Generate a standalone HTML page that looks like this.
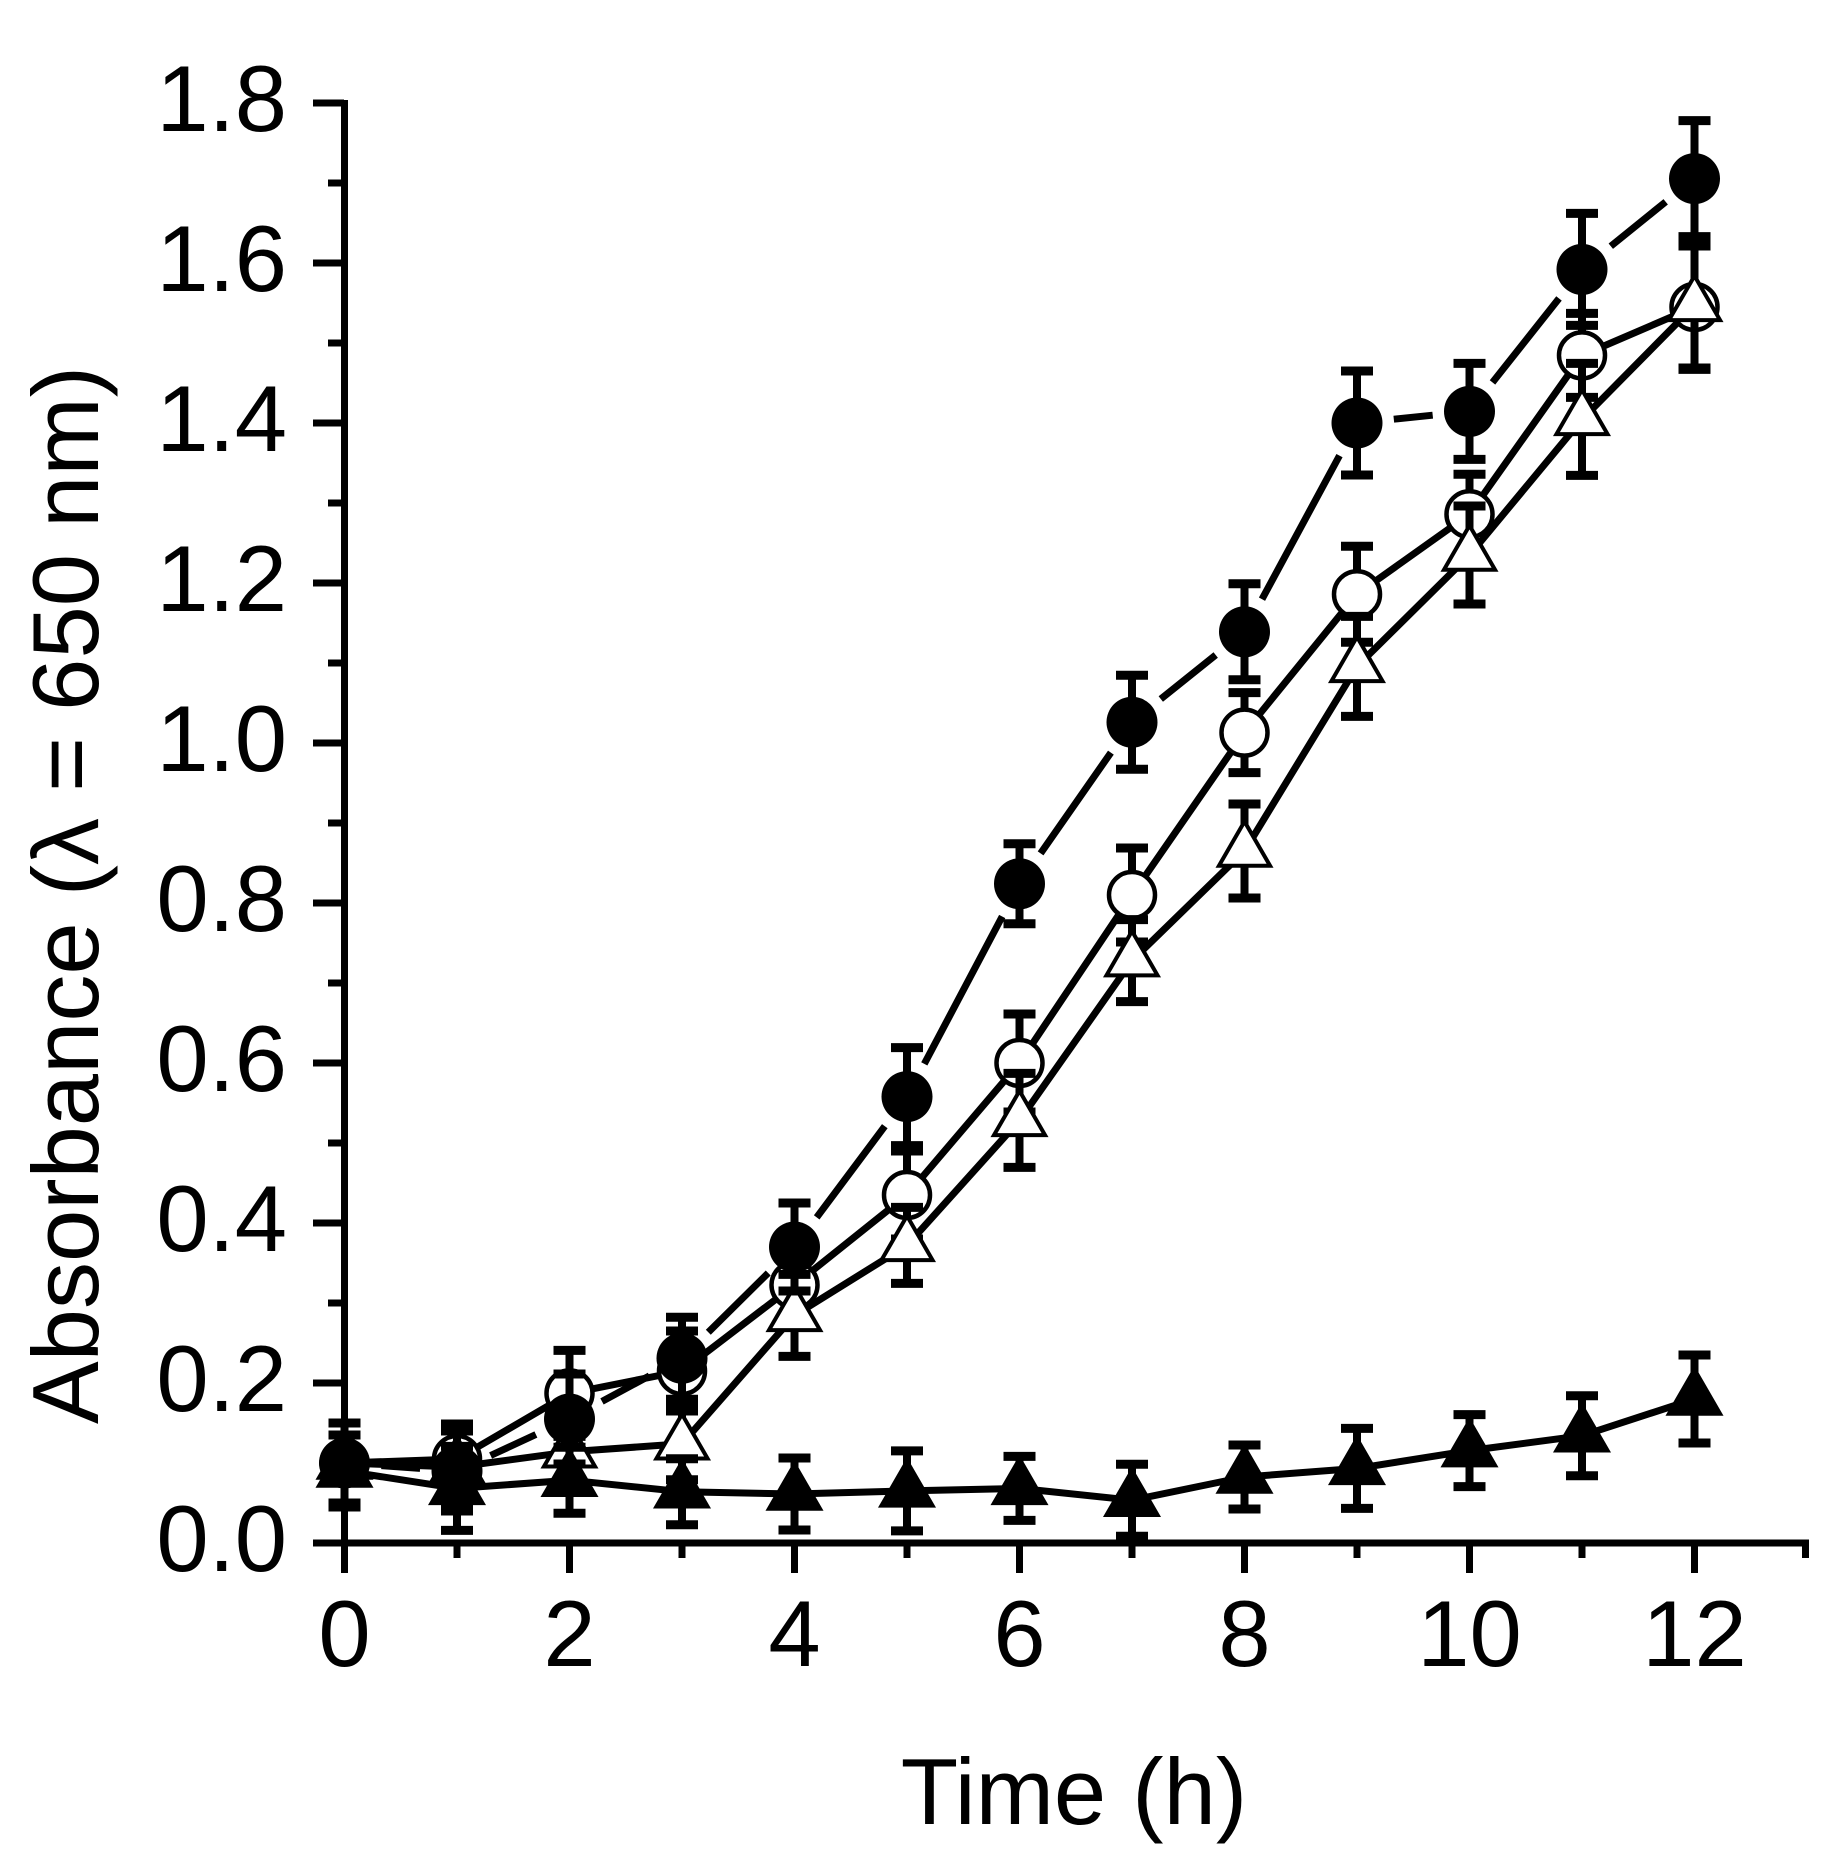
<!DOCTYPE html>
<html>
<head>
<meta charset="utf-8">
<style>
html,body{margin:0;padding:0;background:#fff;}
svg{display:block;}
text{font-family:"Liberation Sans",Arial,sans-serif;fill:#000;}
</style>
</head>
<body>
<svg width="1840" height="1858" viewBox="0 0 1840 1858" xmlns="http://www.w3.org/2000/svg">
<rect x="0" y="0" width="1840" height="1858" fill="#fff"/>
<defs>
  <circle id="oc" cx="0" cy="0" r="23" fill="#fff" stroke="#000" stroke-width="4.5"/>
  <circle id="fc" cx="0" cy="0" r="25.5" fill="#000"/>
  <polygon id="ot" points="0,-29.5 25.55,14.75 -25.55,14.75" fill="#fff" stroke="#000" stroke-width="4" stroke-linejoin="miter"/>
  <polygon id="ft" points="0,-29.5 25.55,14.75 -25.55,14.75" fill="#000" stroke="#000" stroke-width="4" stroke-linejoin="miter"/>
</defs>

<!-- series lines -->
<g fill="none" stroke="#000" stroke-width="7" stroke-linejoin="round">
  <polyline points="344.5,1463 457,1459 569.5,1393.4 682,1371 794.5,1285 907,1195 1019.5,1063 1132,895 1244.5,732.6 1357,594.2 1469.5,514.2 1582,355.4 1694.5,307"/>
  <polyline points="344.5,1463 457,1467 569.5,1451.8 682,1443.8 794.5,1315.4 907,1245.4 1019.5,1120.4 1132,960.6 1244.5,851 1357,666.4 1469.5,555 1582,419.4 1694.5,305.4"/>
  <polyline points="344.5,1471 457,1488.4 569.5,1480.2 682,1491.7 794.5,1494 907,1490.9 1019.5,1488.4 1132,1500.2 1244.5,1477 1357,1468.4 1469.5,1450.6 1582,1435.7 1694.5,1399"/>
  <path stroke-linecap="butt" d="M381.4,1465.6 L420.1,1468.4 M490.6,1455.5 L535.9,1434.5 M602,1401.4 L649.5,1375.8 M708.3,1332.2 L768.2,1273 M816.7,1217.4 L884.8,1126.2 M924.3,1063.9 L1002.2,916.5 M1040.6,853.4 L1110.9,752.6 M1160.8,699 L1215.7,655 M1262,599.2 L1339.5,455.6 M1393.8,419.2 L1432.7,415.2 M1492.5,382.4 L1559,298.4 M1610.8,246.2 L1665.7,201.8"/>
</g>

<!-- open circles: error bars + markers -->
<g stroke="#000" fill="none">
  <path stroke-width="8" d="M344.5,1423V1503 M457,1424V1494 M569.5,1350.4V1436.4 M682,1331V1411 M794.5,1245V1325 M907,1151V1239 M1019.5,1014V1112 M1132,848V942 M1244.5,692.6V772.6 M1357,546.2V642.2 M1469.5,474.2V554.2 M1582,313.4V397.4 M1694.5,246V368"/>
  <path stroke-width="9" d="M328.5,1423h32M328.5,1503h32 M441,1424h32M441,1494h32 M553.5,1350.4h32M553.5,1436.4h32 M666,1331h32M666,1411h32 M778.5,1245h32M778.5,1325h32 M891,1151h32M891,1239h32 M1003.5,1014h32M1003.5,1112h32 M1116,848h32M1116,942h32 M1228.5,692.6h32M1228.5,772.6h32 M1341,546.2h32M1341,642.2h32 M1453.5,474.2h32M1453.5,554.2h32 M1566,313.4h32M1566,397.4h32 M1678.5,246h32M1678.5,368h32"/>
</g>
<use href="#oc" x="344.5" y="1463"/><use href="#oc" x="457" y="1459"/><use href="#oc" x="569.5" y="1393.4"/><use href="#oc" x="682" y="1371"/><use href="#oc" x="794.5" y="1285"/><use href="#oc" x="907" y="1195"/><use href="#oc" x="1019.5" y="1063"/><use href="#oc" x="1132" y="895"/><use href="#oc" x="1244.5" y="732.6"/><use href="#oc" x="1357" y="594.2"/><use href="#oc" x="1469.5" y="514.2"/><use href="#oc" x="1582" y="355.4"/><use href="#oc" x="1694.5" y="307"/>

<!-- open triangles -->
<g stroke="#000" fill="none">
  <path stroke-width="8" d="M344.5,1423V1503 M457,1427V1507 M569.5,1419.8V1483.8 M682,1407.8V1479.8 M794.5,1274.4V1356.4 M907,1207.4V1283.4 M1019.5,1073.4V1167.4 M1132,919.6V1001.6 M1244.5,804V898 M1357,616.4V716.4 M1469.5,506V604 M1582,363.4V475.4 M1694.5,241.4V369.4"/>
  <path stroke-width="9" d="M328.5,1423h32M328.5,1503h32 M441,1427h32M441,1507h32 M553.5,1419.8h32M553.5,1483.8h32 M666,1407.8h32M666,1479.8h32 M778.5,1274.4h32M778.5,1356.4h32 M891,1207.4h32M891,1283.4h32 M1003.5,1073.4h32M1003.5,1167.4h32 M1116,919.6h32M1116,1001.6h32 M1228.5,804h32M1228.5,898h32 M1341,616.4h32M1341,716.4h32 M1453.5,506h32M1453.5,604h32 M1566,363.4h32M1566,475.4h32 M1678.5,241.4h32M1678.5,369.4h32"/>
</g>
<use href="#ot" x="344.5" y="1463"/><use href="#ot" x="457" y="1467"/><use href="#ot" x="569.5" y="1451.8"/><use href="#ot" x="682" y="1443.8"/><use href="#ot" x="794.5" y="1315.4"/><use href="#ot" x="907" y="1245.4"/><use href="#ot" x="1019.5" y="1120.4"/><use href="#ot" x="1132" y="960.6"/><use href="#ot" x="1244.5" y="851"/><use href="#ot" x="1357" y="666.4"/><use href="#ot" x="1469.5" y="555"/><use href="#ot" x="1582" y="419.4"/><use href="#ot" x="1694.5" y="305.4"/>

<!-- filled triangles -->
<g stroke="#000" fill="none">
  <path stroke-width="8" d="M344.5,1435V1507 M457,1446.4V1530.4 M569.5,1447.2V1513.2 M682,1458.7V1524.7 M794.5,1458V1530 M907,1450.9V1530.9 M1019.5,1456.4V1520.4 M1132,1464.2V1536.2 M1244.5,1445V1509 M1357,1428.4V1508.4 M1469.5,1414.6V1486.6 M1582,1395.7V1475.7 M1694.5,1355V1443"/>
  <path stroke-width="9" d="M328.5,1435h32M328.5,1507h32 M441,1446.4h32M441,1530.4h32 M553.5,1447.2h32M553.5,1513.2h32 M666,1458.7h32M666,1524.7h32 M778.5,1458h32M778.5,1530h32 M891,1450.9h32M891,1530.9h32 M1003.5,1456.4h32M1003.5,1520.4h32 M1116,1464.2h32M1116,1536.2h32 M1228.5,1445h32M1228.5,1509h32 M1341,1428.4h32M1341,1508.4h32 M1453.5,1414.6h32M1453.5,1486.6h32 M1566,1395.7h32M1566,1475.7h32 M1678.5,1355h32M1678.5,1443h32"/>
</g>
<use href="#ft" x="344.5" y="1471"/><use href="#ft" x="457" y="1488.4"/><use href="#ft" x="569.5" y="1480.2"/><use href="#ft" x="682" y="1491.7"/><use href="#ft" x="794.5" y="1494"/><use href="#ft" x="907" y="1490.9"/><use href="#ft" x="1019.5" y="1488.4"/><use href="#ft" x="1132" y="1500.2"/><use href="#ft" x="1244.5" y="1477"/><use href="#ft" x="1357" y="1468.4"/><use href="#ft" x="1469.5" y="1450.6"/><use href="#ft" x="1582" y="1435.7"/><use href="#ft" x="1694.5" y="1399"/>

<!-- filled circles -->
<g stroke="#000" fill="none">
  <path stroke-width="8" d="M344.5,1423V1503 M457,1431V1511 M569.5,1374V1464 M682,1317.2V1399.2 M794.5,1203V1291 M907,1047.6V1145.6 M1019.5,843.8V923.8 M1132,675.2V769.2 M1244.5,583.8V679.8 M1357,371V475 M1469.5,363.4V459.4 M1582,213.4V325.4 M1694.5,120.6V236.6"/>
  <path stroke-width="9" d="M328.5,1423h32M328.5,1503h32 M441,1431h32M441,1511h32 M553.5,1374h32M553.5,1464h32 M666,1317.2h32M666,1399.2h32 M778.5,1203h32M778.5,1291h32 M891,1047.6h32M891,1145.6h32 M1003.5,843.8h32M1003.5,923.8h32 M1116,675.2h32M1116,769.2h32 M1228.5,583.8h32M1228.5,679.8h32 M1341,371h32M1341,475h32 M1453.5,363.4h32M1453.5,459.4h32 M1566,213.4h32M1566,325.4h32 M1678.5,120.6h32M1678.5,236.6h32"/>
</g>
<use href="#fc" x="344.5" y="1463"/><use href="#fc" x="457" y="1471"/><use href="#fc" x="569.5" y="1419"/><use href="#fc" x="682" y="1358.2"/><use href="#fc" x="794.5" y="1247"/><use href="#fc" x="907" y="1096.6"/><use href="#fc" x="1019.5" y="883.8"/><use href="#fc" x="1132" y="722.2"/><use href="#fc" x="1244.5" y="631.8"/><use href="#fc" x="1357" y="423"/><use href="#fc" x="1469.5" y="411.4"/><use href="#fc" x="1582" y="269.4"/><use href="#fc" x="1694.5" y="178.6"/>

<!-- axes -->
<g stroke="#000" stroke-width="7" fill="none" stroke-linecap="butt">
  <path d="M344.5,100V1546.5"/>
  <path d="M341,1543H1809"/>
  <path d="M313,103H344 M313,263H344 M313,423H344 M313,583H344 M313,743H344 M313,903H344 M313,1063H344 M313,1223H344 M313,1383H344 M313,1543H344"/>
  <path d="M328,183H344 M328,343H344 M328,503H344 M328,663H344 M328,823H344 M328,983H344 M328,1143H344 M328,1303H344 M328,1463H344"/>
  <path d="M344.5,1543V1573 M569.5,1543V1573 M794.5,1543V1573 M1019.5,1543V1573 M1244.5,1543V1573 M1469.5,1543V1573 M1694.5,1543V1573"/>
  <path d="M457,1543V1558 M682,1543V1558 M907,1543V1558 M1132,1543V1558 M1357,1543V1558 M1582,1543V1558 M1805.5,1543V1558"/>
</g>

<!-- y tick labels -->
<g font-size="94" text-anchor="end">
  <text x="287" y="131">1.8</text>
  <text x="287" y="291">1.6</text>
  <text x="287" y="451">1.4</text>
  <text x="287" y="611">1.2</text>
  <text x="287" y="771">1.0</text>
  <text x="287" y="931">0.8</text>
  <text x="287" y="1091">0.6</text>
  <text x="287" y="1251">0.4</text>
  <text x="287" y="1411">0.2</text>
  <text x="287" y="1571">0.0</text>
</g>

<!-- x tick labels -->
<g font-size="94" text-anchor="middle">
  <text x="344.5" y="1666">0</text>
  <text x="569.5" y="1666">2</text>
  <text x="794.5" y="1666">4</text>
  <text x="1019.5" y="1666">6</text>
  <text x="1244.5" y="1666">8</text>
  <text x="1469.5" y="1666">10</text>
  <text x="1694.5" y="1666">12</text>
</g>

<!-- axis titles -->
<text x="1074" y="1824" font-size="94" text-anchor="middle">Time (h)</text>
<text transform="translate(98,895) rotate(-90)" font-size="94" text-anchor="middle">Absorbance (λ = 650 nm)</text>
</svg>
</body>
</html>
